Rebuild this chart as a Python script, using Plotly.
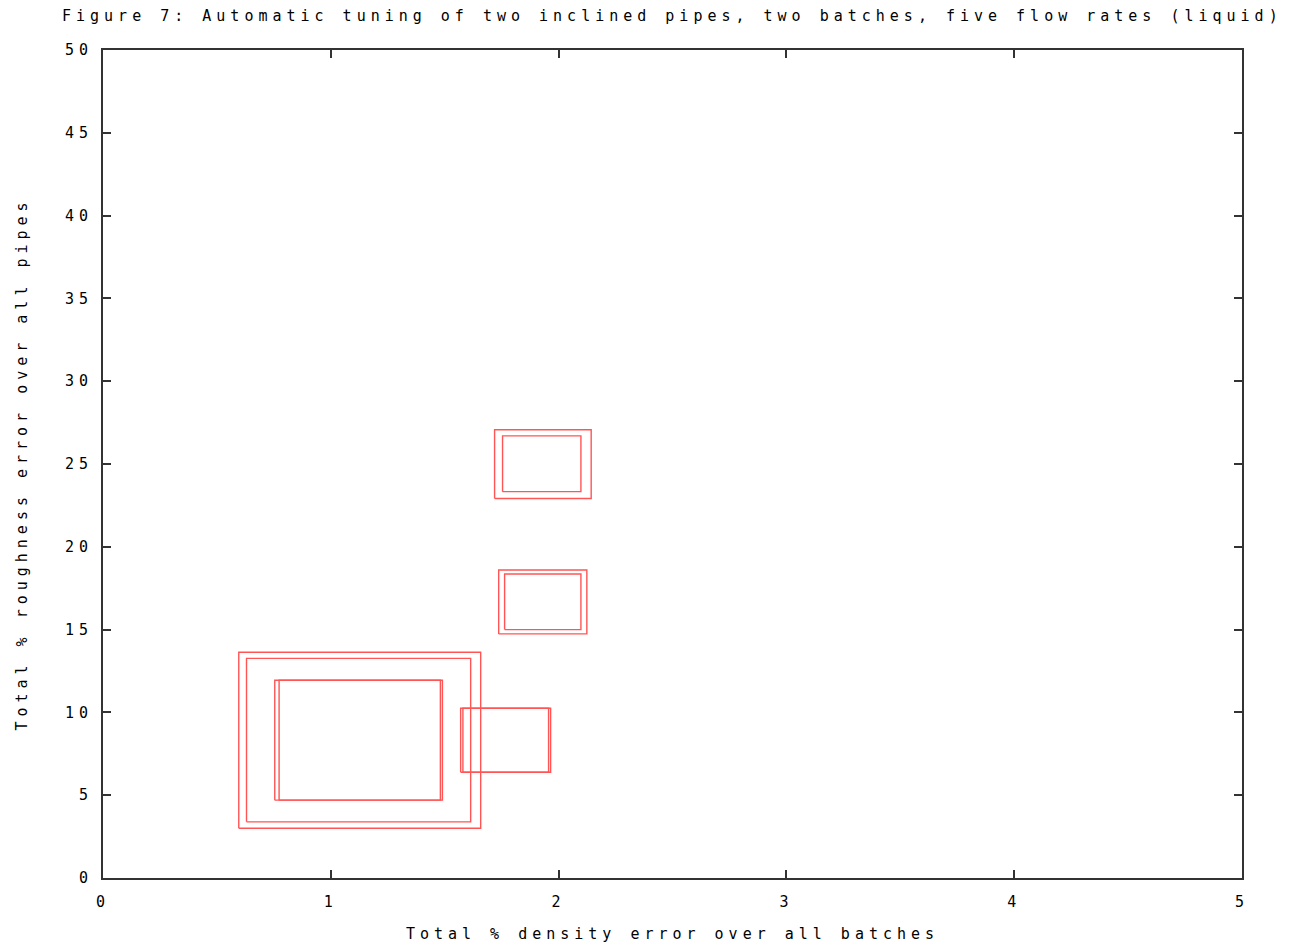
import plotly.graph_objects as go

# Tuning results: each rectangle spans [x_lo, x_hi] x [y_lo, y_hi]
# (density error %, roughness error %)
x_lo = [0.596, 0.630, 0.754, 0.773, 1.570, 1.580, 1.719, 1.754, 1.737, 1.763]
x_hi = [1.658, 1.614, 1.481, 1.490, 1.956, 1.965, 2.143, 2.098, 2.124, 2.098]
y_lo = [3.00, 3.39, 4.70, 4.70, 6.39, 6.39, 22.92, 23.33, 14.74, 15.00]
y_hi = [13.63, 13.26, 11.94, 11.94, 10.25, 10.25, 27.07, 26.70, 18.60, 18.36]

x_ticks = [0, 1, 2, 3, 4, 5]
y_ticks = [0, 5, 10, 15, 20, 25, 30, 35, 40, 45, 50]

title_text = "Figure 7: Automatic tuning of two inclined pipes, two batches, five flow rates (liquid)"
x_title = "Total % density error over all batches"
y_title = "Total % roughness error over all pipes"

# Build closed outlines for every rectangle, separated by gaps
xs, ys = [], []
for a, b, c, d in zip(x_lo, x_hi, y_lo, y_hi):
    xs += [a, b, b, a, a, None]
    ys += [c, c, d, d, c, None]

font = dict(family="DejaVu Sans Mono", size=15, color="#000000")
axis_color = "#333333"

fig = go.Figure()
fig.add_trace(go.Scatter(
    x=xs, y=ys, mode="lines",
    line=dict(color="rgb(255,85,85)", width=1.4),
    hoverinfo="skip", showlegend=False,
))

fig.update_layout(
    width=1296, height=949, autosize=False,
    margin=dict(l=103, r=54, t=50, b=71, autoexpand=False),
    paper_bgcolor="white", plot_bgcolor="white",
    font=font,
    title=dict(
        text=title_text, font=font,
        x=62 / 1296, xanchor="left", xref="container",
        y=1 - 16 / 949, yanchor="middle", yref="container",
    ),
    showlegend=False,
)

fig.update_xaxes(
    range=[0, 5], tickvals=x_ticks, ticktext=[str(v) for v in x_ticks],
    showgrid=False, zeroline=False, automargin=False,
    showline=True, linecolor=axis_color, linewidth=2, mirror="ticks",
    ticks="inside", ticklen=8, tickwidth=2, tickcolor=axis_color,
    ticklabelstandoff=9,
    title=dict(text=x_title, font=font, standoff=18),
)
fig.update_yaxes(
    range=[0, 50], tickvals=y_ticks, ticktext=[str(v) for v in y_ticks],
    showgrid=False, zeroline=False, automargin=False,
    showline=True, linecolor=axis_color, linewidth=2, mirror="ticks",
    ticks="inside", ticklen=8, tickwidth=2, tickcolor=axis_color,
    ticklabelstandoff=5,
    title=dict(text=y_title, font=font, standoff=44),
)

# Wide character spacing in the style of a bitmap terminal font
spacing_js = """
document.getElementById('{plot_id}').querySelectorAll('text').forEach(function(t) {
    t.style.letterSpacing = '5px';
});
"""

fig.write_html("out.html", post_script=spacing_js)
